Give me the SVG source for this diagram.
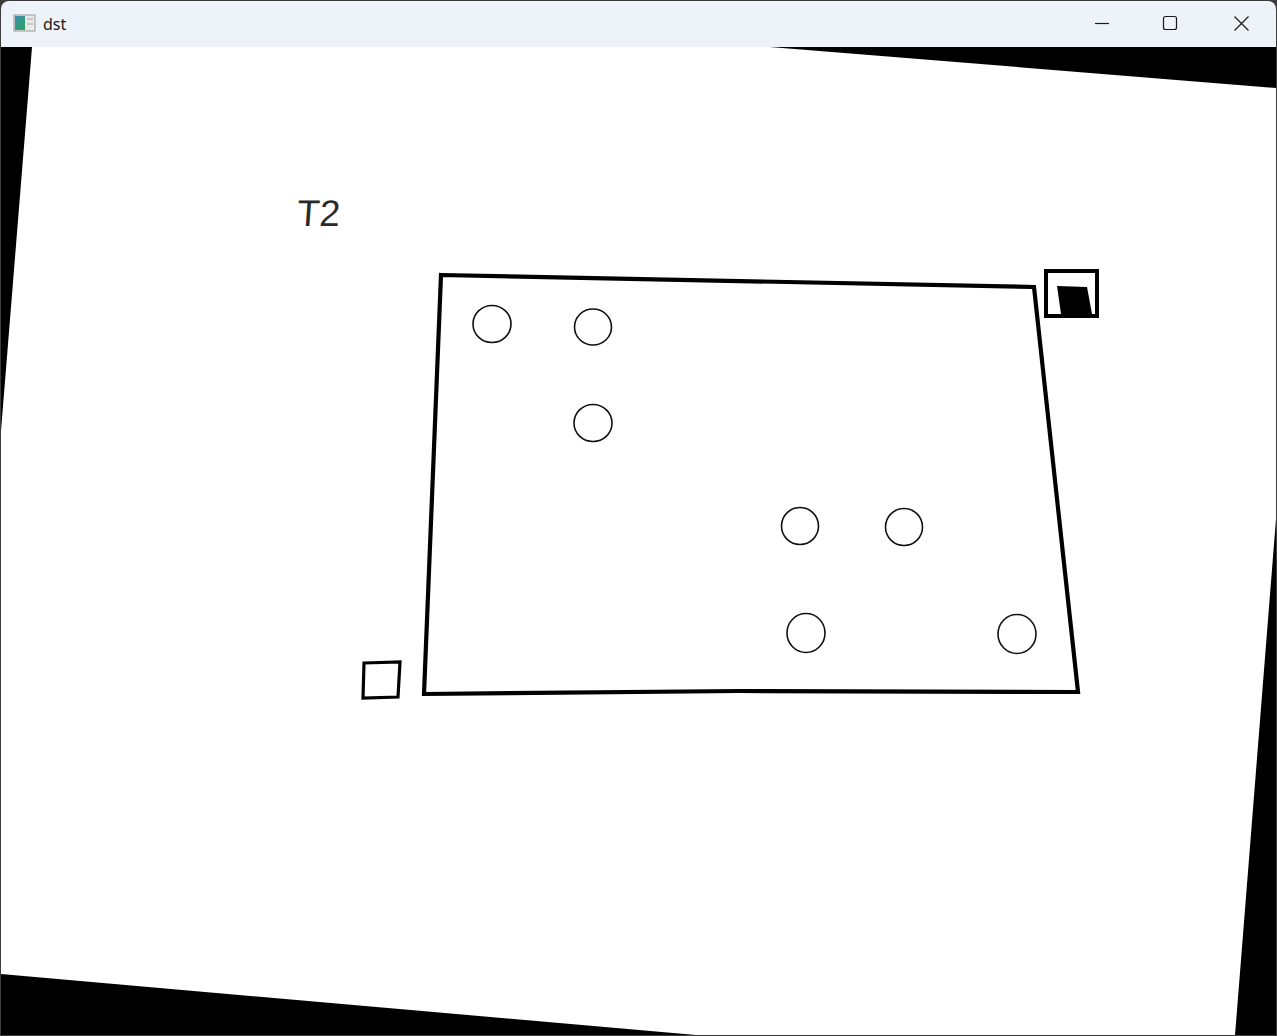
<svg xmlns="http://www.w3.org/2000/svg" width="1277" height="1036" viewBox="0 0 1277 1036">
  <style>
    .frame { fill: none; stroke: #000; stroke-width: 4.2; stroke-linejoin: miter; }
    .hole { fill: #fff; stroke: #111; stroke-width: 1.6; }
    .ctl { fill: none; stroke: #1a1a1a; stroke-width: 1.2; }
  </style>
  <defs>
    <clipPath id="content"><rect x="1" y="47" width="1275" height="988" rx="0"/></clipPath>
    <linearGradient id="ico" x1="0" y1="0" x2="1" y2="1">
      <stop offset="0" stop-color="#3a8fb0"/>
      <stop offset="1" stop-color="#2ea35a"/>
    </linearGradient>
  </defs>
  <rect x="0" y="0" width="1277" height="1036" fill="#3c3c3c"/>
  <rect x="1" y="1" width="1275" height="1034" rx="8" fill="#eef2f9"/>
  <g id="titlebar">
    <rect x="14" y="15" width="21" height="16" fill="#e8e8e8" stroke="#9a9a9a" stroke-width="1"/>
    <rect x="15" y="16" width="10" height="14" fill="url(#ico)"/>
    <rect x="27" y="18" width="6" height="2" fill="#c8c8c8"/>
    <rect x="27" y="23" width="6" height="2" fill="#c8c8c8"/>
    <text x="43" y="29.5" font-family="Noto Sans, Open Sans, sans-serif" font-size="16" fill="#1a1a1a">dst</text>
    <line class="ctl" x1="1095" y1="23.5" x2="1109" y2="23.5"/>
    <rect class="ctl" x="1163.5" y="16.5" width="13" height="13" rx="2"/>
    <path class="ctl" d="M1234.5 16.5 L1248.5 30.5 M1248.5 16.5 L1234.5 30.5"/>
  </g>
  <g clip-path="url(#content)">
    <rect x="0" y="47" width="1277" height="989" fill="#000"/>
    <polygon points="36.8,-12.3 1310,90.7 1231.3,1081.9 -42.6,970.3" fill="#fff"/>
  </g>
  <g id="label-T2">
    <text x="296" y="226" font-family="Liberation Sans, Arial, sans-serif" font-size="37" fill="#2a2a2a" transform="skewX(-4) translate(16 0)">T2</text>
  </g>
  <g id="board">
    <polygon class="frame" points="441,275 1034,287 1078,692 740,691 424,694"/>
  </g>
  <g id="holes">
    <ellipse id="hole1" class="hole" cx="492" cy="324" rx="19" ry="18.5"/>
    <ellipse id="hole2" class="hole" cx="593" cy="327" rx="18.5" ry="18"/>
    <ellipse id="hole3" class="hole" cx="593" cy="423" rx="19" ry="18.5"/>
    <ellipse id="hole4" class="hole" cx="800" cy="526" rx="18.5" ry="18.5"/>
    <ellipse id="hole5" class="hole" cx="904" cy="527" rx="18.5" ry="18.5"/>
    <ellipse id="hole6" class="hole" cx="806" cy="633" rx="19" ry="19.5"/>
    <ellipse id="hole7" class="hole" cx="1017" cy="634" rx="19" ry="19.5"/>
  </g>
  <g id="marker-top-right">
    <rect x="1046" y="271" width="51" height="45" fill="none" stroke="#000" stroke-width="4"/>
    <polygon points="1057,286 1087,287 1092,314 1061,314" fill="#000"/>
  </g>
  <g id="marker-bottom-left">
    <polygon points="364,663 400,662 398,697 363,698" fill="none" stroke="#000" stroke-width="3.2"/>
  </g>
  <g id="connectors"/>
</svg>
